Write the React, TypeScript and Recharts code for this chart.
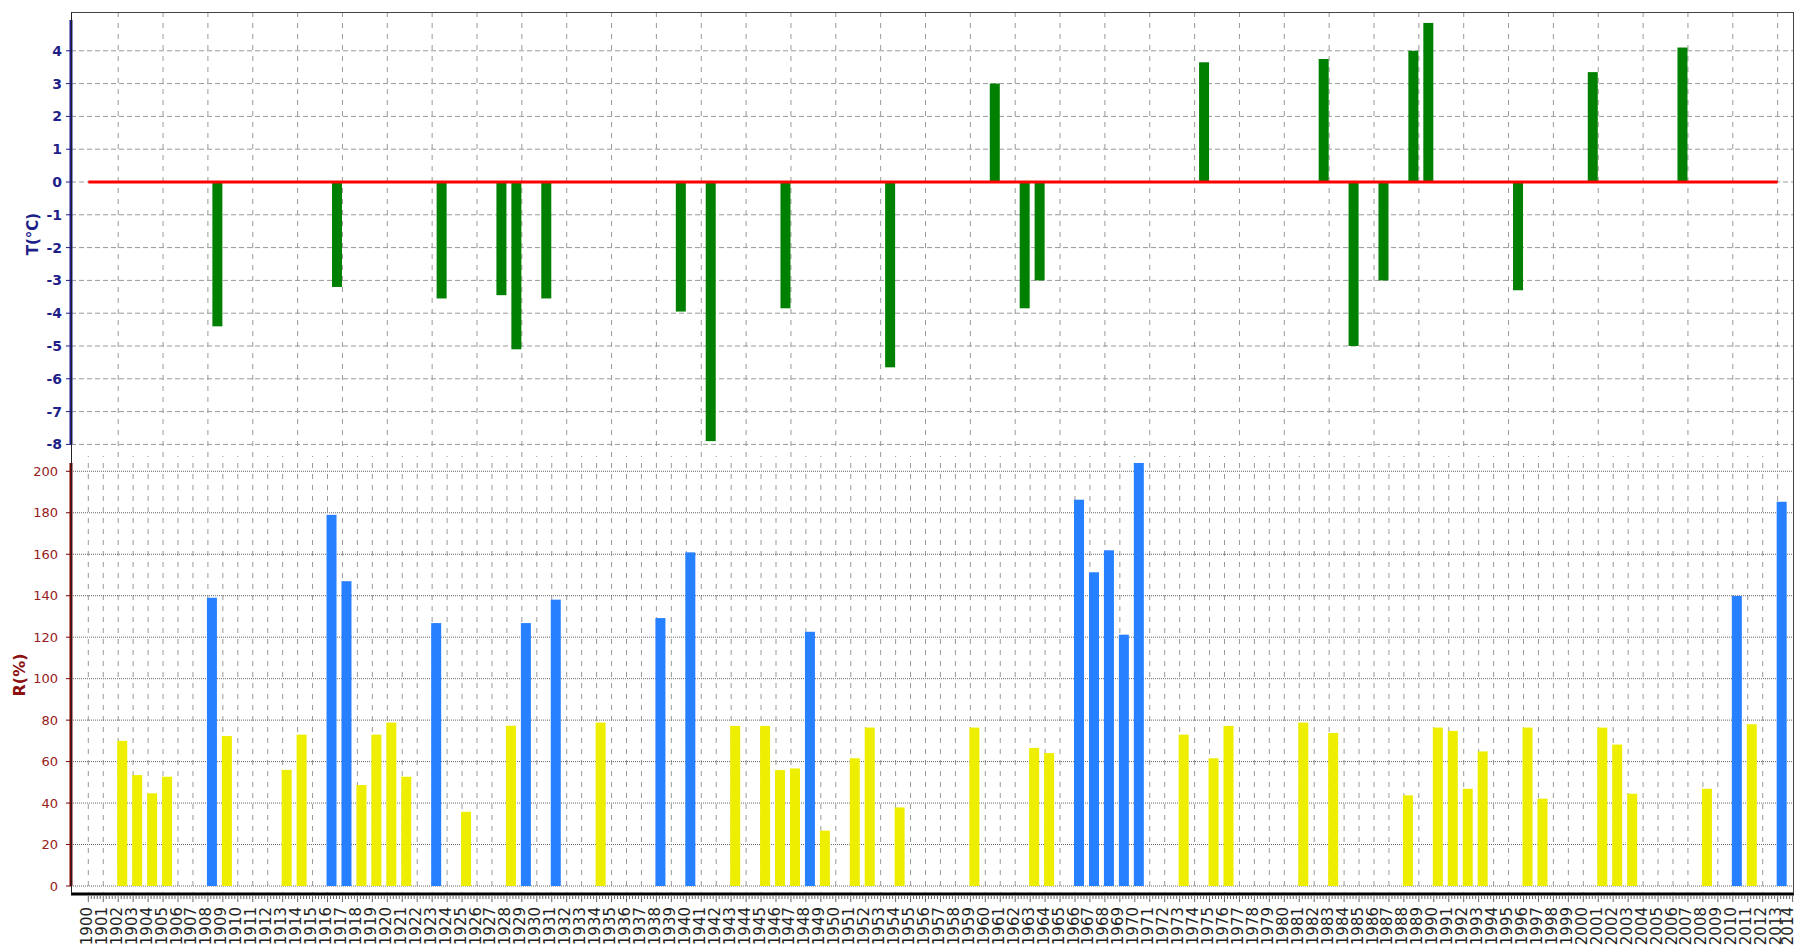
import React from "react";
import { ComposedChart, Bar, Cell, XAxis, YAxis, CartesianGrid, ReferenceLine, Label } from "recharts";

// temperature anomaly T(°C), only years with a bar
const tempYears = [1909, 1917, 1924, 1928, 1929, 1931, 1940, 1942, 1947, 1954, 1961, 1963, 1964, 1975, 1983, 1985, 1987, 1989, 1990, 1996, 2001, 2007];
const tempValues = [-4.4, -3.2, -3.55, -3.45, -5.1, -3.55, -3.95, -7.9, -3.85, -5.65, 3.0, -3.85, -3.0, 3.65, 3.75, -5.0, -3.0, 4.0, 4.85, -3.3, 3.35, 4.1];

// precipitation R(%)
const rainYears = [
    1902, 1903, 1904, 1905, 1908, 1909, 1913, 1914, 1916, 1917, 1918, 1919, 1920, 1921, 1923, 1925, 1928, 1929, 1931, 1934,
    1938, 1940, 1943, 1945, 1946, 1947, 1948, 1949, 1951, 1952, 1954, 1959, 1963, 1964, 1966, 1967, 1968, 1969, 1970, 1973,
    1975, 1976, 1981, 1983, 1988, 1990, 1991, 1992, 1993, 1996, 1997, 2001, 2002, 2003, 2008, 2010, 2011, 2013,
];
const rainValues = [
    70, 53.5, 44.7, 52.7, 139, 72.3, 56, 73, 179, 147, 48.7, 73, 78.8, 52.7, 126.8, 35.8, 77.3, 126.8, 138.1, 78.8,
    129.2, 160.9, 77.2, 77.2, 55.9, 56.7, 122.6, 26.7, 61.6, 76.4, 37.9, 76.4, 66.6, 64.1, 186.3, 151.3, 161.9, 121.2, 204, 73,
    61.6, 77.2, 78.8, 73.8, 43.7, 76.4, 74.8, 46.9, 64.9, 76.4, 42.1, 76.4, 68.2, 44.5, 46.9, 139.9, 78, 185.3,
];

const FIRST_YEAR = 1900;
const LAST_YEAR = 2014;
const gridYears = Array.from({ length: LAST_YEAR - FIRST_YEAR }, (_, i) => FIRST_YEAR + i);
const rulerTicks = Array.from({ length: (LAST_YEAR - FIRST_YEAR) * 5 + 1 }, (_, i) => FIRST_YEAR + i / 5);
const tTicks = [-8, -7, -6, -5, -4, -3, -2, -1, 0, 1, 2, 3, 4];
const rTicks = [0, 20, 40, 60, 80, 100, 120, 140, 160, 180, 200];

const tempData = tempYears.map((year, i) => ({ year, t: tempValues[i] }));
const rainData = rainYears.map((year, i) => ({ year, r: rainValues[i] }));

const WIDTH = 1797;
const xPadding = { left: 17.3, right: 1.4 };

const shiftedBar = (dx: number) => (props: any) => {
    const { x, y, width, height, fill } = props;
    if (x == null || y == null) return <g />;
    return <rect x={x + dx} y={Math.min(y, y + height)} width={width} height={Math.abs(height)} fill={fill} />;
};

const YearTick = (props: any) => {
    const { x, y, payload } = props;
    const v = payload.value as number;
    const major = Math.abs(v - Math.round(v)) < 1e-6;
    // keep the last label inside the page
    const lx = Math.min(x - 1.5, WIDTH - 9);
    return (
        <g>
            <line x1={x} x2={x} y1={y + 2} y2={y + (major ? 8 : 5)} stroke="#666" strokeWidth={1} />
            {major && (
                <text
                    x={lx}
                    y={y + 13}
                    transform={`rotate(-90, ${lx}, ${y + 13})`}
                    textAnchor="end"
                    dominantBaseline="central"
                    fontSize={15}
                    fill="#222"
                >
                    {Math.round(v)}
                </text>
            )}
        </g>
    );
};

export default function App() {
    return (
        <div style={{ position: "absolute", left: 0, top: 0, width: WIDTH, height: 949, background: "#fff", fontFamily: "'DejaVu Sans', sans-serif" }}>
            {/* temperature panel */}
            <div style={{ position: "absolute", left: 0, top: 0 }}>
                <ComposedChart width={WIDTH} height={456} data={tempData} margin={{ top: 12, right: 3, left: 0, bottom: 0 }}>
                    <XAxis type="number" dataKey="year" domain={[FIRST_YEAR, LAST_YEAR]} padding={xPadding} ticks={gridYears} hide />
                    <YAxis
                        domain={[-8, 5]}
                        ticks={tTicks}
                        width={71}
                        padding={{ top: 6, bottom: 11.6 }}
                        axisLine={{ stroke: "#1c1c8c", strokeWidth: 3, strokeDasharray: "0 8 424.4 100" }}
                        tickLine={{ stroke: "#1c1c8c" }}
                        tickSize={5}
                        tickMargin={4}
                        tick={{ fill: "#1f1f8a", fontSize: 14, fontWeight: "bold" }}
                    >
                        <Label value="T(°C)" angle={-90} position="center" dx={-2.5} style={{ fill: "#1f1f8a", fontSize: 15, fontWeight: "bold" }} />
                    </YAxis>
                    <CartesianGrid horizontal={false} verticalValues={gridYears} syncWithTicks stroke="#999" strokeDasharray="5 6" />
                    {tTicks.map((v) => (
                        <ReferenceLine key={`tg-${v}`} y={v} stroke="#999" strokeDasharray="5 3" zIndex={-50} />
                    ))}
                    <Bar dataKey="t" fill="#008000" barSize={10} isAnimationActive={false} shape={shiftedBar(-5)} />
                    <ReferenceLine segment={[{ x: FIRST_YEAR, y: 0 }, { x: LAST_YEAR - 1, y: 0 }]} stroke="#ff0000" strokeWidth={3} />
                </ComposedChart>
            </div>

            {/* precipitation panel */}
            <div style={{ position: "absolute", left: 0, top: 456 }}>
                <ComposedChart width={WIDTH} height={493} data={rainData} margin={{ top: 0, right: 3, left: 0, bottom: 0 }}>
                    <XAxis
                        type="number"
                        dataKey="year"
                        domain={[FIRST_YEAR, LAST_YEAR]}
                        padding={xPadding}
                        ticks={rulerTicks}
                        interval={0}
                        height={55}
                        tickSize={0}
                        tickMargin={0}
                        tickLine={false}
                        axisLine={{ stroke: "#000", strokeWidth: 3 }}
                        tick={<YearTick />}
                    />
                    <YAxis
                        domain={[0, 204]}
                        ticks={rTicks}
                        width={71}
                        padding={{ top: 7, bottom: 8 }}
                        axisLine={{ stroke: "#7a0000", strokeWidth: 3, strokeDasharray: "0 7 423 100" }}
                        tickLine={{ stroke: "#7a0000" }}
                        tickSize={5}
                        tickMargin={8}
                        tick={{ fill: "#962020", fontSize: 13 }}
                    >
                        <Label value="R(%)" angle={-90} position="center" dx={-16.5} style={{ fill: "#8b1010", fontSize: 16, fontWeight: "bold" }} />
                    </YAxis>
                    {/* dash offset continues the pattern of the panel above */}
                    <CartesianGrid horizontal={false} verticalValues={gridYears} syncWithTicks stroke="#999" strokeDasharray="5 6" strokeDashoffset={4} />
                    {rTicks.map((v) => (
                        <ReferenceLine key={`rg-${v}`} y={v} stroke="#666" strokeDasharray="1 1" zIndex={-50} />
                    ))}
                    <Bar dataKey="r" barSize={10} isAnimationActive={false} shape={shiftedBar(4.5)}>
                        {rainData.map((d, i) => (
                            <Cell key={`r-${i}`} fill={d.r > 100 ? "#2680ff" : "#eeee00"} />
                        ))}
                    </Bar>
                </ComposedChart>
            </div>

            {/* plot frame */}
            <div
                style={{
                    position: "absolute",
                    left: 71,
                    top: 12,
                    width: 1723,
                    height: 882,
                    boxSizing: "border-box",
                    borderTop: "1px solid #444",
                    borderRight: "1px solid #444",
                    borderLeft: "1px solid #222",
                    pointerEvents: "none",
                }}
            />
        </div>
    );
}
